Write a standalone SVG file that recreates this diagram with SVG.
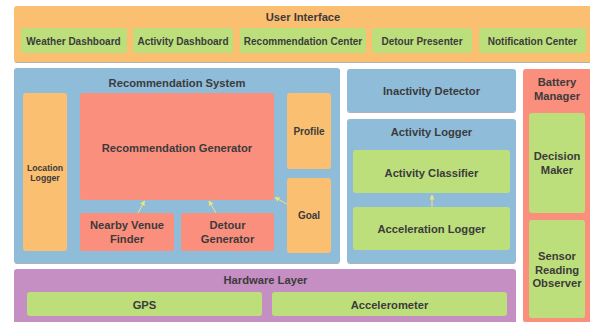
<svg xmlns="http://www.w3.org/2000/svg" width="590" height="322" viewBox="0 0 590 322">
  <defs>
    <filter id="shadow" x="-5%" y="-5%" width="110%" height="115%">
      <feDropShadow dx="0" dy="1" stdDeviation="0.6" flood-color="#000" flood-opacity="0.3"/>
    </filter>
    <marker id="arrow" viewBox="0 0 10 10" refX="9" refY="5" markerWidth="5" markerHeight="5" orient="auto-start-reverse">
      <path d="M0,0 L10,5 L0,10 z" fill="#f2e47a"/>
    </marker>
  </defs>
  <style>
    text { font-family: "Liberation Sans", Arial, sans-serif; font-weight: bold; font-size: 11.2px; fill: #3b3b3b; text-anchor: middle; }
    text.small { font-size: 10px; }
    text.tiny { font-size: 8.7px; }
    .orange { fill: #fbbf72; }
    .green { fill: #bddf7b; }
    .blue { fill: #8fbcd9; }
    .salmon { fill: #fb8f7d; }
    .purple { fill: #c58fc4; }
    .group { filter: url(#shadow); }
    .link { stroke: #f2e47a; stroke-width: 1; fill: none; marker-end: url(#arrow); }
  </style>
  <rect width="590" height="322" fill="#ffffff"/>

  <!-- User Interface -->
  <g id="user-interface">
    <rect class="orange group" x="14" y="6" width="580" height="56" rx="3"/>
    <text x="303" y="21">User Interface</text>
    <g id="weather-dashboard">
      <rect class="green" x="21" y="28" width="106" height="25" rx="3"/>
      <text class="small" x="73.5" y="44.5">Weather Dashboard</text>
    </g>
    <g id="activity-dashboard">
      <rect class="green" x="133" y="28" width="100" height="25" rx="3"/>
      <text class="small" x="183" y="44.5">Activity Dashboard</text>
    </g>
    <g id="recommendation-center">
      <rect class="green" x="240" y="28" width="126" height="25" rx="3"/>
      <text class="small" x="303" y="44.5">Recommendation Center</text>
    </g>
    <g id="detour-presenter">
      <rect class="green" x="372" y="28" width="100" height="25" rx="3"/>
      <text class="small" x="422" y="44.5">Detour Presenter</text>
    </g>
    <g id="notification-center">
      <rect class="green" x="479" y="28" width="107" height="25" rx="3"/>
      <text class="small" x="532.5" y="44.5">Notification Center</text>
    </g>
  </g>

  <!-- Recommendation System -->
  <g id="recommendation-system">
    <rect class="blue group" x="14" y="68" width="326" height="195" rx="3"/>
    <text x="177" y="86.5">Recommendation System</text>
    <g id="location-logger">
      <rect class="orange" x="23" y="93" width="44" height="158" rx="3"/>
      <text class="tiny" x="45" y="170.5">Location</text>
      <text class="tiny" x="45" y="180.5">Logger</text>
    </g>
    <g id="recommendation-generator">
      <rect class="salmon" x="80" y="93" width="194" height="107" rx="3"/>
      <text x="177" y="152">Recommendation Generator</text>
    </g>
    <g id="profile">
      <rect class="orange" x="287" y="93" width="44" height="76" rx="3"/>
      <text class="small" x="309" y="135">Profile</text>
    </g>
    <g id="goal">
      <rect class="orange" x="287" y="178" width="44" height="75" rx="3"/>
      <text class="small" x="309" y="219">Goal</text>
    </g>
    <g id="nearby-venue-finder">
      <rect class="salmon" x="80" y="213" width="94" height="38" rx="3"/>
      <text x="127" y="229">Nearby Venue</text>
      <text x="127" y="242.5">Finder</text>
    </g>
    <g id="detour-generator">
      <rect class="salmon" x="181" y="213" width="93" height="38" rx="3"/>
      <text x="227.5" y="229">Detour</text>
      <text x="227.5" y="242.5">Generator</text>
    </g>
  </g>

  <!-- Inactivity Detector -->
  <g id="inactivity-detector">
    <rect class="blue group" x="347" y="69" width="169" height="43" rx="3"/>
    <text x="431.5" y="95">Inactivity Detector</text>
  </g>

  <!-- Activity Logger -->
  <g id="activity-logger">
    <rect class="blue group" x="347" y="119" width="169" height="144" rx="3"/>
    <text x="431.5" y="136">Activity Logger</text>
    <g id="activity-classifier">
      <rect class="green" x="353" y="150" width="157" height="43" rx="3"/>
      <text x="431.5" y="176.5">Activity Classifier</text>
    </g>
    <g id="acceleration-logger">
      <rect class="green" x="353" y="207" width="157" height="43" rx="3"/>
      <text x="431.5" y="232.5">Acceleration Logger</text>
    </g>
  </g>

  <!-- Battery Manager -->
  <g id="battery-manager">
    <rect class="salmon group" x="523" y="69" width="70" height="253" rx="3"/>
    <text x="557" y="86">Battery</text>
    <text x="557" y="99.5">Manager</text>
    <g id="decision-maker">
      <rect class="green" x="529" y="113" width="56" height="100" rx="3"/>
      <text x="557" y="160">Decision</text>
      <text x="557" y="173.5">Maker</text>
    </g>
    <g id="sensor-reading-observer">
      <rect class="green" x="529" y="220" width="56" height="98" rx="3"/>
      <text x="557" y="260">Sensor</text>
      <text x="557" y="273.5">Reading</text>
      <text x="557" y="287">Observer</text>
    </g>
  </g>

  <!-- Hardware Layer -->
  <g id="hardware-layer">
    <rect class="purple group" x="14" y="269" width="502" height="60" rx="3"/>
    <text x="265.5" y="283.5">Hardware Layer</text>
    <g id="gps">
      <rect class="green" x="27" y="292" width="235" height="24" rx="3"/>
      <text x="144.5" y="308.5">GPS</text>
    </g>
    <g id="accelerometer">
      <rect class="green" x="272" y="292" width="235" height="24" rx="3"/>
      <text x="389.5" y="308.5">Accelerometer</text>
    </g>
  </g>

  <!-- Connectors -->
  <g id="connectors">
    <line class="link" x1="138" y1="213" x2="144.5" y2="201"/>
    <line class="link" x1="216" y1="213" x2="209" y2="201"/>
    <line class="link" x1="287" y1="204" x2="275" y2="197.5"/>
    <line class="link" x1="432" y1="207" x2="432" y2="195"/>
  </g>
</svg>
